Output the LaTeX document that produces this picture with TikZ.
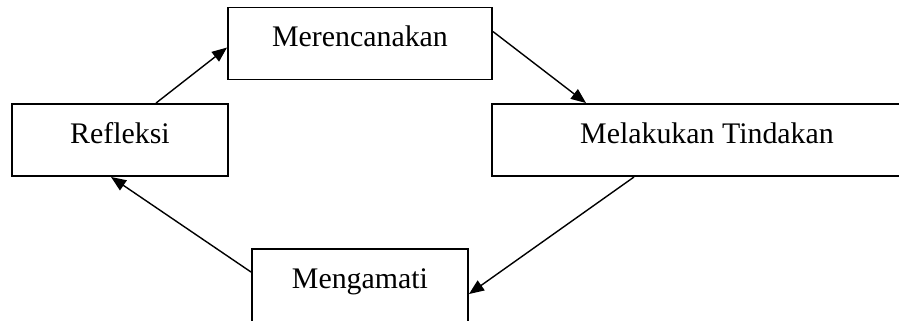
\documentclass[tikz,border=0pt]{standalone}
\usepackage{fontspec}
\setmainfont{Liberation Serif}
\usepackage{tikz}
\usetikzlibrary{calc,arrows.meta}

\begin{document}
\begin{tikzpicture}[
		stagebox/.style={rectangle,draw,line width=1.1pt,inner sep=0pt,
		minimum height=1.44cm,text height=0.42cm,text depth=0.30cm,
		font=\fontsize{17}{20}\selectfont},
		cycarrow/.style={-{Triangle[length=0.3cm,width=0.24cm]},line width=0.8pt}
		]
		\useasboundingbox (0,0) rectangle (17.98,-6.4);
		\clip (0,0) rectangle (17.98,-6.4);

		\node[stagebox, minimum width=5.28cm] (Plan) at (7.2,-0.87) {Merencanakan};
		\node[stagebox, minimum width=4.32cm, below of = Plan, xshift = -4.8 cm, yshift = -0.93 cm] (Refl) {Refleksi};
		\node[stagebox, minimum width=8.6cm, below of = Plan, xshift = 6.94 cm, yshift = -0.93 cm] (Act) {Melakukan Tindakan};
		\node[stagebox, minimum width=4.32cm, minimum height=1.56cm, text depth=0.42cm,
		below of = Plan, yshift = -3.89 cm] (Obs) {Mengamati};

		\draw[cycarrow] ([xshift=2.9cm]Refl.north west) -- ([yshift=-0.82cm]Plan.north west);
		\draw[cycarrow] ([yshift=-0.5cm]Plan.north east) -- ([xshift=1.9cm]Act.north west);
		\draw[cycarrow] ([xshift=2.86cm]Act.south west) -- ([yshift=-0.92cm]Obs.north east);
		\draw[cycarrow] ([yshift=-0.48cm]Obs.north west) -- ([xshift=2cm]Refl.south west);
	\end{tikzpicture}
\end{document}
